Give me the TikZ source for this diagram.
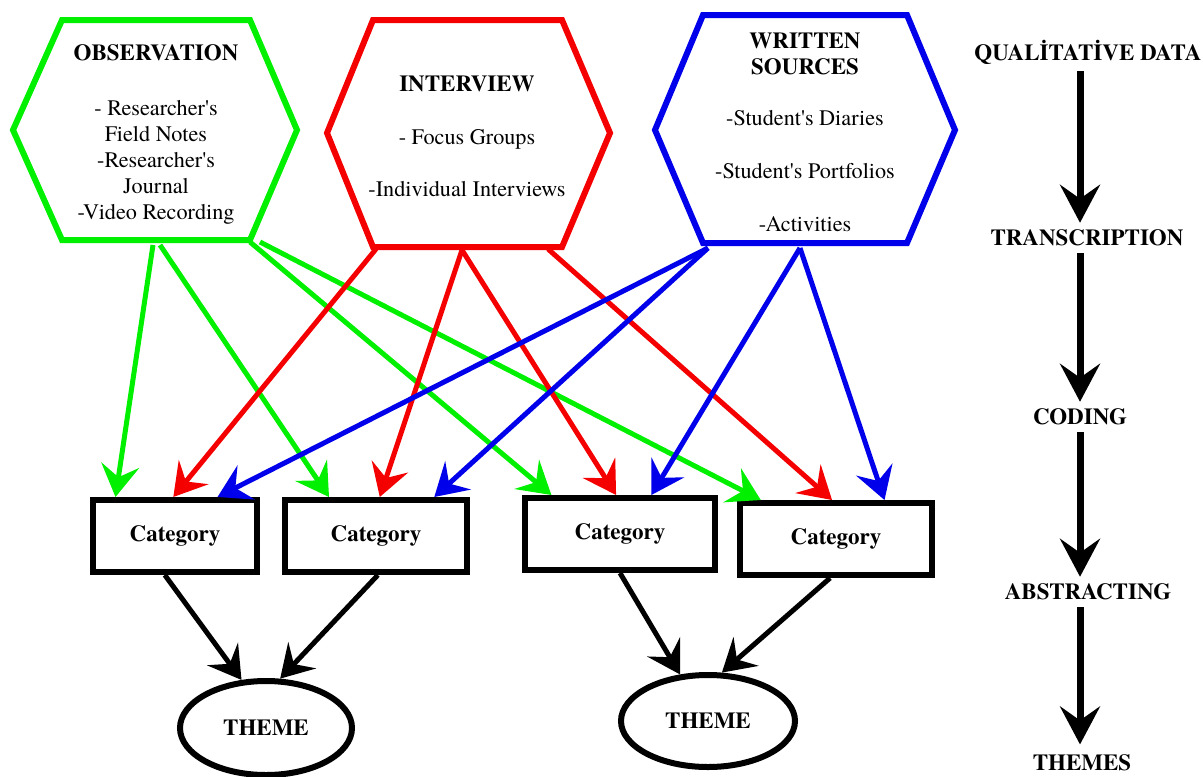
\documentclass[tikz,border=0pt]{standalone}
\usepackage{fontspec}
\setmainfont{texgyretermes}[Extension = .otf, UprightFont = *-regular,
    BoldFont = *-bold, ItalicFont = *-italic, BoldItalicFont = *-bolditalic]
\usepackage{tikz}
\usetikzlibrary{arrows.meta}
\usetikzlibrary{shapes.geometric}
\usetikzlibrary{calc}
\tikzset{hex/.style = {line width = 3pt, line join = miter}}
\tikzset{src/.style = {align = center, font = \fontsize{11.1}{13}\selectfont}}
\tikzset{lbl/.style = {font = \fontsize{11.5}{13}\selectfont\bfseries}}
\tikzset{cat/.style = {draw, line width = 3pt, minimum height = 36pt, lbl}}
\tikzset{theme/.style = {draw, ellipse, line width = 3pt, minimum width = 86pt,
                         minimum height = 47pt, lbl}}
\tikzset{link/.style = {line width = 2.5pt,
                        -{Stealth[length = 16pt, width = 19pt, inset = 6pt]}}}
\tikzset{flow/.style = {line width = 3.5pt,
                        -{Stealth[length = 19pt, width = 20pt, inset = 7pt]}}}
\definecolor{mgreen}{RGB}{0, 240, 0}
\definecolor{mred}{RGB}{245, 0, 0}
\definecolor{mblue}{RGB}{0, 0, 235}

\begin{document}
\begin{tikzpicture}[x = 0.5pt, y = -0.5pt]
    \useasboundingbox (0, 0) rectangle (1203, 776);

    % data sources
    \draw [hex, mgreen] (62, 20) -- (250, 20) -- (297, 130) -- (250, 240) -- (62, 240) -- (13, 130) -- cycle;
    \draw [hex, mred] (373, 20) -- (562, 20) -- (610, 133) -- (562, 247) -- (373, 247) -- (327, 133) -- cycle;
    \draw [hex, mblue] (703, 15) -- (907, 15) -- (955, 130) -- (907, 243) -- (703, 243) -- (655, 130) -- cycle;

    \node [src] (obs) at (156, 134) {\textbf{\fontsize{11.5}{13}\selectfont OBSERVATION}\\[14.5pt]
        - Researcher\textquotesingle s\\ Field Notes\\ -Researcher\textquotesingle s\\ Journal\\ -Video Recording};
    \node [src] (int) at (467, 136) {\textbf{\fontsize{11.5}{13}\selectfont INTERVIEW}\\[13.5pt]
        - Focus Groups\\[13pt] -Individual Interviews};
    \node [src] (wri) at (805, 132) {\textbf{\fontsize{11.5}{13}\selectfont WRITTEN}\\
        \textbf{\fontsize{11.5}{13}\selectfont SOURCES}\\[12.5pt]
        -Student\textquotesingle s Diaries\\[13.5pt] -Student\textquotesingle s Portfolios\\[13.5pt] -Activities};

    \coordinate (obs-a) at (153, 245);
    \coordinate (obs-b) at (160, 245);
    \coordinate (obs-c) at (250, 242);
    \coordinate (obs-d) at (260, 242);
    \coordinate (int-a) at (376, 249);
    \coordinate (int-b) at (462, 250);
    \coordinate (int-c) at (548, 249);
    \coordinate (wri-a) at (708, 248);
    \coordinate (wri-b) at (800, 248);

    % categories and themes
    \node [cat, minimum width = 82pt] (cat1) at (175, 536) {Category};
    \node [cat, minimum width = 91pt] (cat2) at (376, 536) {Category};
    \node [cat, minimum width = 95pt] (cat3) at (620, 534) {Category};
    \node [cat, minimum width = 96pt] (cat4) at (836, 539) {Category};

    \node [theme] (th1) at (266, 728) {THEME};
    \node [theme, minimum width = 87pt, minimum height = 46pt] (th2) at (708, 721) {THEME};

    \draw [link, mgreen] (obs-a) -- ($(cat1.north west)!0.15!(cat1.north east)$);
    \draw [link, mgreen] (obs-b) -- ($(cat2.north west)!0.25!(cat2.north east)$);
    \draw [link, mgreen] (obs-c) -- ($(cat3.north west)!0.15!(cat3.north east)$);
    \draw [link, mgreen] (obs-d) -- ($(cat4.north west)!0.12!(cat4.north east)$);

    \draw [link, mred] (int-a) -- ($(cat1.north west)!0.49!(cat1.north east)$);
    \draw [link, mred] (int-b) -- ($(cat2.north west)!0.52!(cat2.north east)$);
    \draw [link, mred] (int-b) -- ($(cat3.north west)!0.48!(cat3.north east)$);
    \draw [link, mred] (int-c) -- ($(cat4.north west)!0.48!(cat4.north east)$);

    \draw [link, mblue] (wri-a) -- ($(cat1.north west)!0.75!(cat1.north east)$);
    \draw [link, mblue] (wri-a) -- ($(cat2.north west)!0.81!(cat2.north east)$);
    \draw [link, mblue] (wri-b) -- ($(cat3.north west)!0.66!(cat3.north east)$);
    \draw [link, mblue] (wri-b) -- ($(cat4.north west)!0.745!(cat4.north east)$);

    \draw [link] ($(cat1.south west)!0.44!(cat1.south east)$) -- (th1.117);
    \draw [link] ($(cat2.south west)!0.51!(cat2.south east)$) -- (th1.74);
    \draw [link] ($(cat3.south west)!0.5!(cat3.south east)$) -- (th2.121);
    \draw [link] ($(cat4.south west)!0.47!(cat4.south east)$) -- (th2.74);

    % analysis steps
    \node [lbl] (qd) at (1088, 52) {QUALİTATİVE DATA};
    \node [lbl] (tr) at (1087, 238) {TRANSCRIPTION};
    \node [lbl] (cod) at (1080, 417) {CODING};
    \node [lbl] (abs) at (1088, 592) {ABSTRACTING};
    \node [lbl, inner sep = 1pt] (thm) at (1082, 763) {THEMES};

    \draw [flow] (qd.south -| cod) -- (tr.north -| cod);
    \draw [flow] (tr.south -| cod) -- (cod.north);
    \draw [flow] (cod.south) -- (abs.north -| cod);
    \draw [flow, shorten > = 4pt] (abs.south -| cod) -- (thm.north -| cod);
\end{tikzpicture}
\end{document}
